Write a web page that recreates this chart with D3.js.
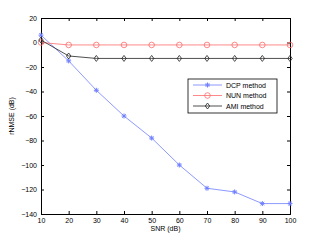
<!DOCTYPE html>
<html>
<head>
<meta charset="utf-8">
<script src="https://cdn.jsdelivr.net/npm/d3@7"></script>
<style>
  body { margin: 0; background: #fff; }
  svg text { font-family: "Liberation Sans", Arial, sans-serif; }
</style>
</head>
<body>
<div id="chart"></div>
<script>
const snr = [10, 20, 30, 40, 50, 60, 70, 80, 90, 100];
const dcp = [6, -15, -39, -60, -78, -100, -119, -122, -131.5, -131.5];
const nun = [0, -2, -2, -2, -2, -2, -2, -2, -2, -2];
const ami = [2, -11, -13, -13, -13, -13, -13, -13, -13, -13];
const xTicks = [10, 20, 30, 40, 50, 60, 70, 80, 90, 100];
const yTicks = [20, 0, -20, -40, -60, -80, -100, -120, -140];

const width = 321, height = 241, margin = { top: 18, right: 31, bottom: 27, left: 41 };

const series = [
  { name: "DCP method", values: dcp, color: "#6f7fff", marker: "star" },
  { name: "NUN method", values: nun, color: "#ff6b6b", marker: "circle" },
  { name: "AMI method", values: ami, color: "#222", marker: "diamond" }
];

const svg = d3.select("#chart").append("svg")
  .attr("width", width).attr("height", height);

const x = d3.scaleLinear().domain([10, 100]).range([margin.left, width - margin.right]);
const y = d3.scaleLinear().domain([-140, 20]).range([height - margin.bottom, margin.top]);

const fmt = d => d < 0 ? "\u2212" + Math.abs(d) : d;

function styleAxis(g) {
  g.selectAll("path.domain").attr("stroke", "#000").attr("stroke-width", 1);
  g.selectAll(".tick line").attr("stroke", "#000");
  g.selectAll("text").attr("font-size", 7).attr("fill", "#000");
}

svg.append("g").attr("transform", `translate(0,${height - margin.bottom})`)
  .call(d3.axisBottom(x).tickValues(xTicks).tickSize(-3).tickPadding(4).tickFormat(d3.format("d")))
  .call(styleAxis);
svg.append("g").attr("transform", `translate(0,${margin.top})`)
  .call(d3.axisTop(x).tickValues(xTicks).tickSize(-3).tickFormat(""))
  .call(styleAxis);
svg.append("g").attr("transform", `translate(${margin.left},0)`)
  .call(d3.axisLeft(y).tickValues(yTicks).tickSize(-3).tickPadding(4).tickFormat(fmt))
  .call(styleAxis);
svg.append("g").attr("transform", `translate(${width - margin.right},0)`)
  .call(d3.axisRight(y).tickValues(yTicks).tickSize(-3).tickFormat(""))
  .call(styleAxis);

function drawMarker(g, type, color) {
  if (type === "star") {
    g.append("path").attr("d", "M-2.5,0H2.5M0,-2.5V2.5M-1.8,-1.8L1.8,1.8M-1.8,1.8L1.8,-1.8")
      .attr("stroke", color).attr("stroke-width", 1).attr("fill", "none");
  } else if (type === "circle") {
    g.append("circle").attr("r", 2.8).attr("fill", "none").attr("stroke", color).attr("stroke-width", 0.8);
  } else {
    g.append("path").attr("d", "M0,-3L2.2,0L0,3L-2.2,0Z")
      .attr("fill", "none").attr("stroke", color).attr("stroke-width", 0.8);
  }
}

const line = d3.line().x((d, i) => x(snr[i])).y(d => y(d));

series.forEach(s => {
  svg.append("path").datum(s.values)
    .attr("d", line).attr("fill", "none")
    .attr("stroke", s.color).attr("stroke-width", 0.8);
  s.values.forEach((v, i) => {
    const g = svg.append("g").attr("transform", `translate(${x(snr[i])},${y(v)})`);
    drawMarker(g, s.marker, s.color);
  });
});

// legend
const legend = svg.append("g").attr("transform", "translate(188,79)");
legend.append("rect").attr("width", 89).attr("height", 34)
  .attr("fill", "#fff").attr("stroke", "#000").attr("stroke-width", 0.8);
series.forEach((s, i) => {
  const ly = 6 + i * 10.5;
  legend.append("line").attr("x1", 5).attr("x2", 34).attr("y1", ly).attr("y2", ly)
    .attr("stroke", s.color).attr("stroke-width", 0.8);
  drawMarker(legend.append("g").attr("transform", `translate(19.5,${ly})`), s.marker, s.color);
  legend.append("text").attr("x", 38).attr("y", ly + 2.5)
    .attr("font-size", 7).text(s.name);
});

svg.append("text")
  .attr("x", (margin.left + width - margin.right) / 2)
  .attr("y", 231)
  .attr("text-anchor", "middle")
  .attr("font-size", 7)
  .text("SNR (dB)");

svg.append("text")
  .attr("transform", "rotate(-90)")
  .attr("x", -(margin.top + height - margin.bottom) / 2)
  .attr("y", 14)
  .attr("text-anchor", "middle")
  .attr("font-size", 7)
  .text("rNMSE (dB)");
</script>
</body>
</html>
